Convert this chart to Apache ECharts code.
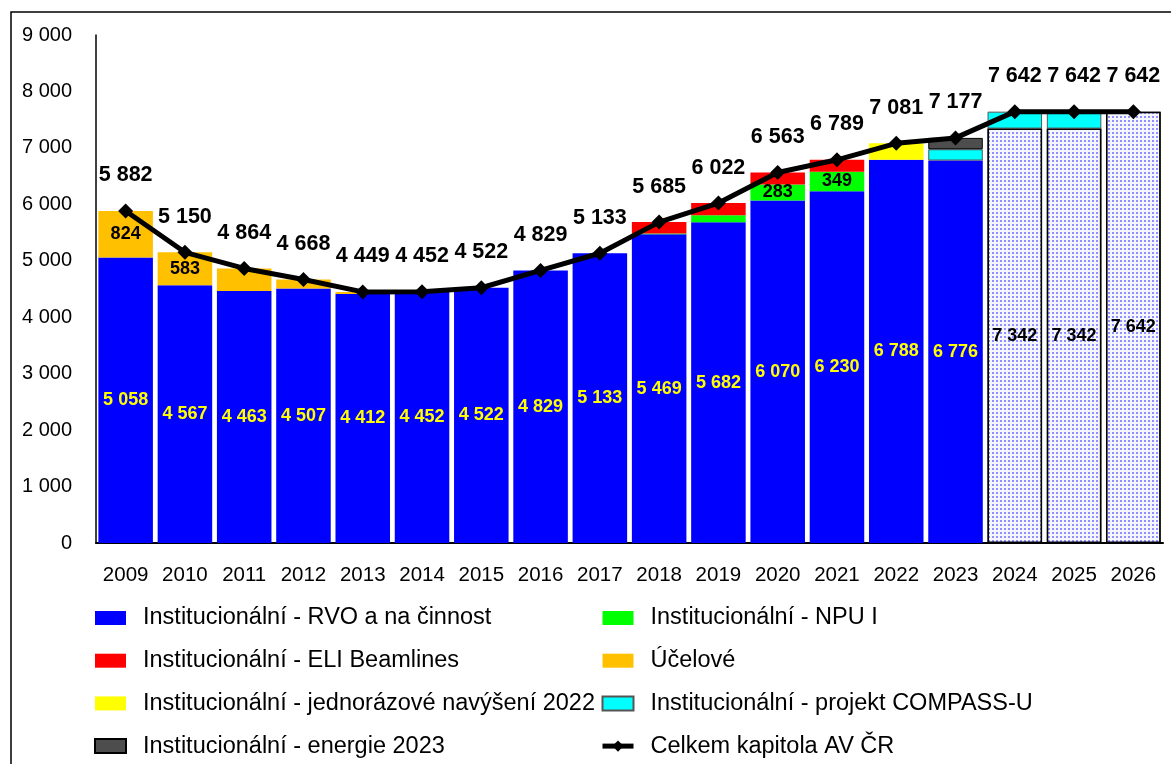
<!DOCTYPE html>
<html>
<head>
<meta charset="utf-8">
<script src="https://cdn.jsdelivr.net/npm/echarts@6/dist/echarts.min.js"></script>
<style>
  html, body { margin: 0; padding: 0; background: #fff; }
  #chart { width: 1171px; height: 764px; }
</style>
</head>
<body>
<div id="chart"></div>
<script>
var years = ['2009', '2010', '2011', '2012', '2013', '2014', '2015', '2016', '2017',
    '2018', '2019', '2020', '2021', '2022', '2023', '2024', '2025', '2026'];
var rvo = [5058, 4567, 4463, 4507, 4412, 4452, 4522, 4829, 5133,
    5469, 5682, 6070, 6230, 6788, 6776, null, null, null];
var rvoOutlook = [null, null, null, null, null, null, null, null, null,
    null, null, null, null, null, null, 7342, 7342, 7642];
var npu = [null, null, null, null, null, null, null, null, null,
    16, 124, 283, 349, null, null, null, null, null];
var eli = [null, null, null, null, null, null, null, null, null,
    200, 216, 210, 210, null, null, null, null, null];
var ucelove = [824, 583, 401, 161, 37, null, null, null, null,
    null, null, null, null, null, null, null, null, null];
var jednorazove = [null, null, null, null, null, null, null, null, null,
    null, null, null, null, 293, null, null, null, null];
var compass = [null, null, null, null, null, null, null, null, null,
    null, null, null, null, null, 200, 300, 300, null];
var energie = [null, null, null, null, null, null, null, null, null,
    null, null, null, null, null, 201, null, null, null];
var celkem = [5882, 5150, 4864, 4668, 4449, 4452, 4522, 4829, 5133,
    5685, 6022, 6563, 6789, 7081, 7177, 7642, 7642, 7642];

var FONT = "'Liberation Sans', Arial, sans-serif";

function fmt(v) {
    return String(v).replace(/\B(?=(\d{3})+(?!\d))/g, ' ');
}

var chart = echarts.init(document.getElementById('chart'));

function barSeries(name, data, color, extra) {
    var s = {
        name: name,
        type: 'bar',
        stack: 'total',
        data: data,
        barCategoryGap: '8%',
        itemStyle: { color: color },
        emphasis: { disabled: true }
    };
    for (var k in extra) s[k] = extra[k];
    return s;
}

var innerLabel = function (color, minVal) {
    return {
        show: true,
        position: 'inside',
        color: color,
        fontFamily: FONT,
        fontWeight: 'bold',
        fontSize: 18,
        formatter: function (p) {
            return p.value >= minVal ? fmt(p.value) : '';
        }
    };
};

var legendText = { fontFamily: FONT, fontSize: 23.5, lineHeight: 24, color: '#000', padding: [0, 0, 0, 12] };

function legendItems(names) {
    return names.map(function (n) {
        return n === 'Celkem kapitola AV ČR' ? { name: n } : { name: n, icon: 'rect' };
    });
}

var option = {
    backgroundColor: '#fff',
    animation: false,
    textStyle: { fontFamily: FONT },
    graphic: [{
        type: 'rect',
        shape: { x: 11, y: 12, width: 1200, height: 800 },
        style: { fill: null, stroke: '#000', lineWidth: 1.5 },
        silent: true,
        z: 100
    }],
    grid: { left: 96, right: 8, top: 35, bottom: 221 },
    legend: [{
        orient: 'vertical',
        left: 94,
        top: 606,
        padding: 0,
        itemWidth: 31,
        itemHeight: 14,
        itemGap: 18.7,
        textStyle: legendText,
        lineStyle: { width: 5 },
        data: legendItems(['Institucionální - RVO a na činnost', 'Institucionální - ELI Beamlines',
            'Institucionální - jednorázové navýšení 2022', 'Institucionální - energie 2023'])
    }, {
        orient: 'vertical',
        left: 600,
        top: 606,
        padding: 0,
        itemWidth: 31,
        itemHeight: 14,
        itemGap: 18.7,
        textStyle: legendText,
        lineStyle: { width: 5 },
        data: legendItems(['Institucionální - NPU I', 'Účelové',
            'Institucionální - projekt COMPASS-U', 'Celkem kapitola AV ČR'])
    }],
    xAxis: {
        type: 'category',
        data: years,
        axisLine: { lineStyle: { color: '#000', width: 2 } },
        axisTick: { show: false },
        axisLabel: { color: '#000', fontFamily: FONT, fontSize: 20.5, margin: 22, interval: 0 }
    },
    yAxis: {
        type: 'value',
        min: 0,
        max: 9000,
        interval: 1000,
        splitLine: { show: false },
        axisLine: { show: true, lineStyle: { color: '#000', width: 1.5 } },
        axisTick: { show: false },
        axisLabel: {
            color: '#000', fontFamily: FONT, fontSize: 20, margin: 24,
            formatter: function (v) { return fmt(v); }
        }
    },
    series: [
        barSeries('Institucionální - RVO a na činnost', rvo, '#0000ff', {
            label: innerLabel('#ffff00', 0)
        }),
        barSeries('Institucionální - RVO a na činnost (výhled)', rvoOutlook, '#ffffff', {
            itemStyle: {
                color: '#ffffff',
                borderColor: '#000',
                borderWidth: 1.5,
                decal: {
                    symbol: 'rect',
                    symbolSize: 1,
                    color: 'rgba(40,40,255,0.5)',
                    backgroundColor: '#f6f6ff',
                    dashArrayX: [2, 2],
                    dashArrayY: [2, 2],
                    rotation: 0
                }
            },
            label: innerLabel('#000', 0)
        }),
        barSeries('Institucionální - NPU I', npu, '#00ff00', {
            label: innerLabel('#000', 250)
        }),
        barSeries('Institucionální - ELI Beamlines', eli, '#ff0000'),
        barSeries('Účelové', ucelove, '#ffc000', {
            label: innerLabel('#000', 500)
        }),
        barSeries('Institucionální - jednorázové navýšení 2022', jednorazove, '#ffff00'),
        barSeries('Institucionální - projekt COMPASS-U', compass, '#00ffff', {
            itemStyle: { color: '#00ffff', borderColor: '#555', borderWidth: 1 }
        }),
        barSeries('Institucionální - energie 2023', energie, '#4d4d4d', {
            itemStyle: { color: '#4d4d4d', borderColor: '#000', borderWidth: 1 }
        }),
        {
            name: 'Celkem kapitola AV ČR',
            type: 'line',
            data: celkem,
            z: 10,
            symbol: 'diamond',
            symbolSize: 15,
            itemStyle: { color: '#000' },
            lineStyle: { color: '#000', width: 5 },
            emphasis: { disabled: true },
            label: {
                show: true,
                position: 'top',
                distance: 17,
                color: '#000',
                fontFamily: FONT,
                fontWeight: 'bold',
                fontSize: 21.5,
                formatter: function (p) { return fmt(p.value); }
            }
        }
    ]
};

chart.setOption(option);
</script>
</body>
</html>
